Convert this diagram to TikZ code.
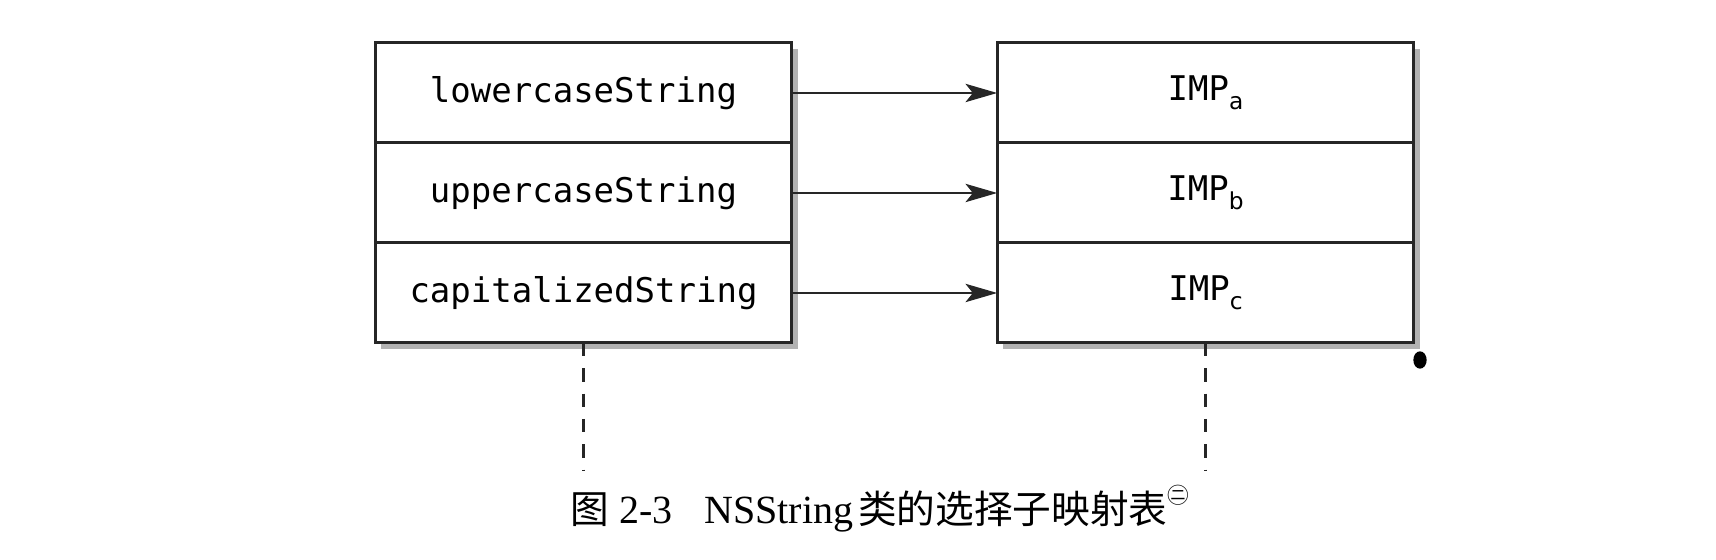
\documentclass[tikz,border=0pt]{standalone}
\usepackage{fontspec}
\setmainfont{Liberation Serif}
\newfontfamily\monofont{DejaVu Sans Mono}
\newfontfamily\subfont{DejaVu Sans}
\newfontfamily\cjk{Noto Sans CJK SC}
\usetikzlibrary{arrows.meta, positioning, backgrounds}
\newcommand{\impsub}[1]{\raisebox{-2.7pt}{\fontsize{7}{7}\subfont #1}}
\newcommand{\cjktext}[1]{{\fontsize{11.6}{13}\cjk #1}}

\begin{document}
\begin{tikzpicture}[
    x=0.3pt, y=-0.3pt,
    cell/.style={
        rectangle, draw=black!85, line width=0.9pt, fill=white,
        minimum width=125pt, minimum height=30pt,
        inner sep=0pt, outer sep=0pt,
        font=\fontsize{10.2}{12}\monofont
    },
    shadowbox/.style={fill=black!30},
    arr/.style={-{Stealth[length=9.5pt, width=5.5pt, inset=2.2pt]},
        line width=0.6pt, draw=black!85},
    guide/.style={line width=0.7pt, draw=black!85,
        dash pattern=on 4pt off 3.6pt},
    caption/.style={font=\fontsize{12}{14}\selectfont, inner sep=0pt,
        anchor=base west}
]
\useasboundingbox (0,0) rectangle (1716,560);

% Selector column
\node[cell] (sel1) at (583.5, 93) {lowercaseString};
\node[cell, below=0pt of sel1] (sel2) {uppercaseString};
\node[cell, below=0pt of sel2] (sel3) {capitalizedString};

% Implementation column
\node[cell] (imp1) at (1205.5, 93) {IMP\impsub{a}};
\node[cell, below=0pt of imp1] (imp2) {IMP\impsub{b}};
\node[cell, below=0pt of imp2] (imp3) {IMP\impsub{c}};

% Soft shadows behind both tables
\begin{scope}[on background layer]
\fill[shadowbox] ([xshift=1.8pt, yshift=-1.8pt]sel1.north west)
    rectangle ([xshift=1.8pt, yshift=-1.8pt]sel3.south east);
\fill[shadowbox] ([xshift=1.8pt, yshift=-1.8pt]imp1.north west)
    rectangle ([xshift=1.8pt, yshift=-1.8pt]imp3.south east);
\end{scope}

% Each selector maps to its implementation
\foreach \i in {1,2,3}
    \draw[arr] (sel\i.east) -- (imp\i.west);

% Dashed continuation below both tables
\coordinate (selend) at ([yshift=-38.5pt]sel3.south);
\coordinate (impend) at ([yshift=-38.5pt]imp3.south);
\draw[guide] (sel3.south) -- (selend);
\draw[guide] (imp3.south) -- (impend);

% Scan speck beside the right table
\fill[black] (1420, 360) ellipse [x radius=2pt, y radius=2.6pt];

% Caption
\node[caption] (cap) at (570, 524)
    {\cjktext{图}\hspace{3pt}2-3\hspace{9.5pt}NSString\hspace{1.5pt}%
     \cjktext{类的选择子映射表}\raisebox{6pt}{\fontsize{6.5}{7}\cjk ㊁}};

\end{tikzpicture}
\end{document}
